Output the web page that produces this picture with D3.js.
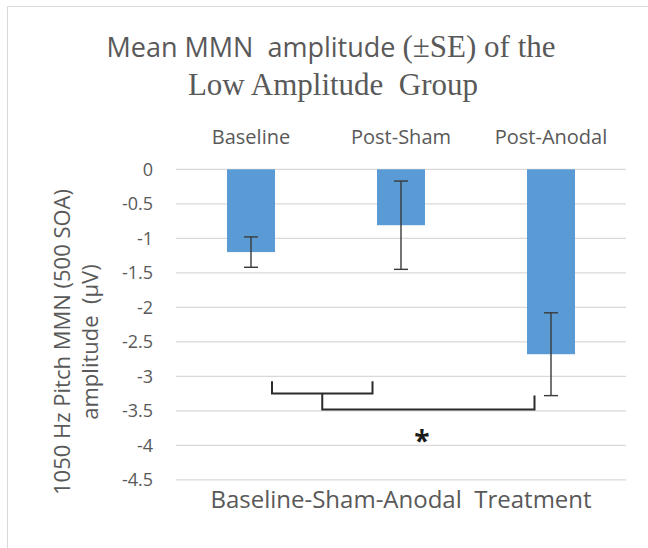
<!DOCTYPE html>
<html>
<head>
<meta charset="utf-8">
<script src="https://cdn.jsdelivr.net/npm/d3@7"></script>
<style>
  body { margin: 0; background: #fff; }
  text { font-family: "Open Sans", sans-serif; fill: #595959; white-space: pre; }
</style>
</head>
<body>
<div id="wrapper"></div>
<script>
// chart values
const categories = ["Baseline", "Post-Sham", "Post-Anodal"]
const means = [-1.2, -0.81, -2.68]
const errors = [0.22, 0.64, 0.6]
const yTicks = [0, -0.5, -1, -1.5, -2, -2.5, -3, -3.5, -4, -4.5]
const yTickLabels = ["0", "-0.5", "-1", "-1.5", "-2", "-2.5", "-3", "-3.5", "-4", "-4.5"]
// significance brackets, x in category-index units, y in data units
const bracketInner = { x0: 0.14, x1: 0.81, top: -3.07, bar: -3.25 }
const bracketOuter = { x0: 0.475, x1: 1.89, topLeft: -3.25, topRight: -3.28, bar: -3.48 }
const starPos = { x: 1.14, y: -3.88 }

function drawChart() {
  const width = 648
  const height = 548

  const svg = d3.select("#wrapper")
    .append("svg")
    .attr("width", width)
    .attr("height", height)

  // outer frame
  svg.append("rect")
    .attr("x", 7.5).attr("y", 6.5)
    .attr("width", width).attr("height", height)
    .attr("fill", "#fff")
    .attr("stroke", "#d9d9d9")

  const x = d3.scaleBand()
    .domain(categories)
    .range([176, 626])
    .paddingInner(0.68)
    .paddingOuter(0.34)

  const xIdx = d3.scaleLinear()
    .domain([0, 2])
    .range([x(categories[0]) + x.bandwidth() / 2, x(categories[2]) + x.bandwidth() / 2])

  const y = d3.scaleLinear()
    .domain([0, -4.5])
    .range([169.3, 479.8])

  // gridlines
  svg.append("g")
    .selectAll("line")
    .data(yTicks)
    .enter().append("line")
    .attr("x1", 176).attr("x2", 626)
    .attr("y1", d => y(d)).attr("y2", d => y(d))
    .attr("stroke", "#d9d9d9")
    .attr("stroke-width", 1.3)

  // y tick labels
  svg.append("g")
    .selectAll("text")
    .data(yTicks)
    .enter().append("text")
    .attr("x", 153)
    .attr("y", d => y(d))
    .attr("dy", "0.36em")
    .attr("text-anchor", "end")
    .style("font-size", "18px")
    .text((d, i) => yTickLabels[i])

  // bars
  svg.append("g")
    .selectAll("rect")
    .data(means)
    .enter().append("rect")
    .attr("x", (d, i) => x(categories[i]))
    .attr("y", y(0))
    .attr("width", x.bandwidth())
    .attr("height", d => y(d) - y(0))
    .attr("fill", "#5b9bd5")

  // error bars
  const err = svg.append("g")
    .attr("stroke", "#3a3a3a")
    .attr("stroke-width", 1.4)
  means.forEach((m, i) => {
    const cx = x(categories[i]) + x.bandwidth() / 2
    err.append("line")
      .attr("x1", cx).attr("x2", cx)
      .attr("y1", y(m + errors[i])).attr("y2", y(m - errors[i]))
    err.append("line")
      .attr("x1", cx - 7).attr("x2", cx + 7)
      .attr("y1", y(m + errors[i])).attr("y2", y(m + errors[i]))
    err.append("line")
      .attr("x1", cx - 7).attr("x2", cx + 7)
      .attr("y1", y(m - errors[i])).attr("y2", y(m - errors[i]))
  })

  // category labels on top
  svg.append("g")
    .selectAll("text")
    .data(categories)
    .enter().append("text")
    .attr("x", d => x(d) + x.bandwidth() / 2)
    .attr("y", 144)
    .attr("text-anchor", "middle")
    .style("font-size", "20px")
    .text(d => d)

  // significance brackets
  const br = svg.append("g")
    .attr("fill", "none")
    .attr("stroke", "#2b2b2b")
    .attr("stroke-width", 2)
  br.append("path")
    .attr("d", d3.line()([
      [xIdx(bracketInner.x0), y(bracketInner.top)],
      [xIdx(bracketInner.x0), y(bracketInner.bar)],
      [xIdx(bracketInner.x1), y(bracketInner.bar)],
      [xIdx(bracketInner.x1), y(bracketInner.top)]
    ]))
  br.append("path")
    .attr("d", d3.line()([
      [xIdx(bracketOuter.x0), y(bracketOuter.topLeft)],
      [xIdx(bracketOuter.x0), y(bracketOuter.bar)],
      [xIdx(bracketOuter.x1), y(bracketOuter.bar)],
      [xIdx(bracketOuter.x1), y(bracketOuter.topRight)]
    ]))

  svg.append("text")
    .attr("x", xIdx(starPos.x))
    .attr("y", y(starPos.y))
    .attr("dy", "0.5em")
    .attr("text-anchor", "middle")
    .style("font-size", "28px")
    .style("font-weight", "bold")
    .style("fill", "#1a1a1a")
    .text("*")

  // x axis title
  svg.append("text")
    .attr("x", (176 + 626) / 2)
    .attr("y", 508)
    .attr("text-anchor", "middle")
    .style("font-size", "24px")
    .text("Baseline-Sham-Anodal  Treatment")

  // y axis title
  const yt = svg.append("text")
    .attr("transform", "translate(70,342) rotate(-90)")
    .attr("text-anchor", "middle")
    .style("font-size", "22px")
  yt.append("tspan").attr("x", 0).attr("y", 0).text("1050 Hz Pitch MMN (500 SOA)")
  yt.append("tspan").attr("x", 0).attr("y", 28).text("amplitude  (µV)")

  // title, mixed sans / serif like the original
  const t1 = svg.append("text")
    .attr("x", 331).attr("y", 57)
    .attr("text-anchor", "middle")
  t1.append("tspan").style("font-size", "27px").text("Mean MMN  amplitude ")
  t1.append("tspan")
    .style("font-family", "'Liberation Serif', serif")
    .style("font-size", "31px")
    .text("(±SE) of the")

  svg.append("text")
    .attr("x", 333).attr("y", 95)
    .attr("text-anchor", "middle")
    .style("font-family", "'Liberation Serif', serif")
    .style("font-size", "31px")
    .text("Low Amplitude  Group")
}

drawChart()
</script>
</body>
</html>
